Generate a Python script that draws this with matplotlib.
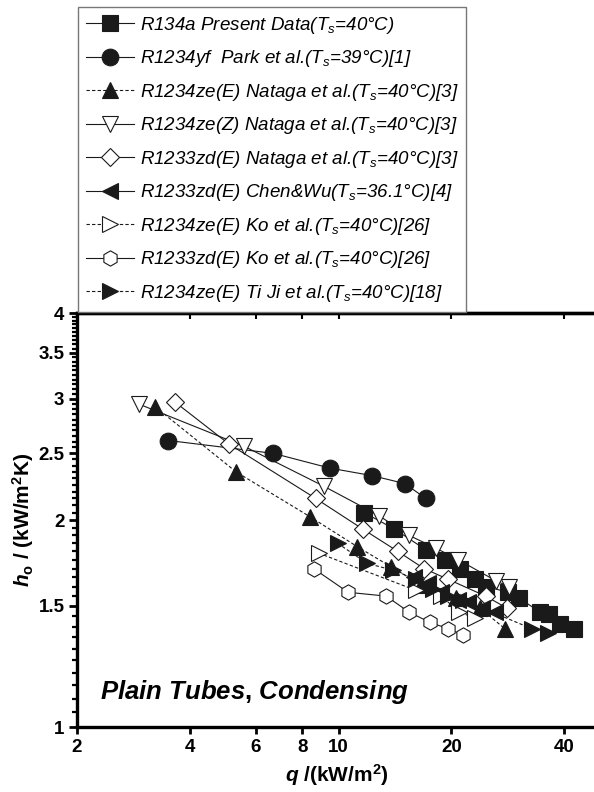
import numpy as np
import matplotlib.pyplot as plt
from matplotlib.font_manager import FontProperties
from matplotlib.ticker import NullLocator, NullFormatter

plt.rcParams['font.family'] = ['Liberation Sans', 'DejaVu Sans']
plt.rcParams['mathtext.fontset'] = 'custom'
plt.rcParams['mathtext.rm'] = 'Liberation Sans'
plt.rcParams['mathtext.it'] = 'Liberation Sans:italic'
plt.rcParams['mathtext.bf'] = 'Liberation Sans:bold'
plt.rcParams['mathtext.bfit'] = 'Liberation Sans:italic:bold'

# heat flux q (kW/m2) and condensation HTC h_o (kW/m2K)
q_r134a = [11.7, 14.1, 17.1, 19.2, 21.1, 23.1, 24.8, 28.4, 30.3, 34.5, 36.5, 39.0, 42.6]
h_r134a = [2.05, 1.94, 1.81, 1.75, 1.70, 1.64, 1.60, 1.57, 1.54, 1.47, 1.46, 1.41, 1.39]

q_park = [3.51, 6.69, 9.46, 12.3, 15.0, 17.1]
h_park = [2.61, 2.50, 2.38, 2.32, 2.26, 2.15]

q_nat_zeE = [3.24, 5.32, 8.41, 11.2, 13.8, 16.6, 20.6, 23.8, 27.8]
h_nat_zeE = [2.92, 2.35, 2.02, 1.83, 1.71, 1.61, 1.54, 1.49, 1.39]

q_nat_zeZ = [2.92, 5.59, 9.12, 12.8, 15.4, 18.2, 20.9, 26.4, 28.6]
h_nat_zeZ = [2.95, 2.56, 2.24, 2.03, 1.90, 1.82, 1.75, 1.63, 1.60]

q_nat_zd = [3.65, 5.09, 8.68, 11.6, 14.4, 16.9, 19.6, 24.7, 28.1]
h_nat_zd = [2.97, 2.58, 2.15, 1.94, 1.80, 1.70, 1.64, 1.55, 1.49]

q_chen = [15.9, 17.3, 18.8, 20.9, 22.2, 24.1, 26.1]
h_chen = [1.65, 1.62, 1.57, 1.53, 1.52, 1.49, 1.47]

q_ko_ze = [8.84, 16.1, 18.8, 21.0, 23.1]
h_ko_ze = [1.79, 1.58, 1.55, 1.47, 1.44]

q_ko_zd = [8.57, 10.6, 13.4, 15.4, 17.5, 19.6, 21.5]
h_ko_zd = [1.70, 1.57, 1.55, 1.47, 1.42, 1.39, 1.36]

q_tiji = [9.94, 11.9, 14.0, 16.1, 17.9, 19.6, 21.5, 32.8, 36.2]
h_tiji = [1.85, 1.73, 1.69, 1.64, 1.59, 1.55, 1.53, 1.39, 1.37]

labels = [
    'R134a Present Data($T_s$=40°C)',
    'R1234yf  Park et al.($T_s$=39°C)[1]',
    'R1234ze(E) Nataga et al.($T_s$=40°C)[3]',
    'R1234ze(Z) Nataga et al.($T_s$=40°C)[3]',
    'R1233zd(E) Nataga et al.($T_s$=40°C)[3]',
    'R1233zd(E) Chen&Wu($T_s$=36.1°C)[4]',
    'R1234ze(E) Ko et al.($T_s$=40°C)[26]',
    'R1233zd(E) Ko et al.($T_s$=40°C)[26]',
    'R1234ze(E) Ti Ji et al.($T_s$=40°C)[18]',
]

x_ticks = [2, 4, 6, 8, 10, 20, 40]
y_ticks = [1, 1.5, 2, 2.5, 3, 3.5, 4]

dash = (0, (3, 2))
series = [
    (q_r134a, h_r134a, 's', '#1a1a1a', '-', 11),
    (q_park, h_park, 'o', '#1a1a1a', '-', 12),
    (q_nat_zeE, h_nat_zeE, '^', '#1a1a1a', dash, 12),
    (q_nat_zeZ, h_nat_zeZ, 'v', 'white', '-', 12),
    (q_nat_zd, h_nat_zd, 'D', 'white', '-', 9.5),
    (q_chen, h_chen, '<', '#1a1a1a', '-', 12),
    (q_ko_ze, h_ko_ze, '>', 'white', dash, 12),
    (q_ko_zd, h_ko_zd, 'h', 'white', '-', 11),
    (q_tiji, h_tiji, '>', '#1a1a1a', dash, 12),
]

fig = plt.figure(figsize=(5.94, 7.92), dpi=100)
ax = fig.add_axes([77 / 594, 65 / 792, 520 / 594, 414 / 792])

handles = []
for (q, h, m, fc, ls, ms), lab in zip(series, labels):
    ln, = ax.plot(q, h, marker=m, markersize=ms, markerfacecolor=fc,
                  markeredgecolor='#1a1a1a', markeredgewidth=0.8,
                  color='#1a1a1a', linestyle=ls, linewidth=0.8, label=lab)
    handles.append(ln)

ax.set_xscale('log')
ax.set_yscale('log')
ax.set_xlim(2, 49)
ax.set_ylim(1, 4)

ax.set_xticks(x_ticks)
ax.set_xticklabels([str(v) for v in x_ticks])
ax.xaxis.set_minor_locator(NullLocator())
ax.set_yticks(y_ticks)
ax.set_yticklabels(['1', '1.5', '2', '2.5', '3', '3.5', '4'])
ax.set_yticks(np.arange(1.0, 4.001, 0.05), minor=True)
ax.yaxis.set_minor_formatter(NullFormatter())

for lab in ax.get_xticklabels() + ax.get_yticklabels():
    lab.set_fontweight('bold')
    lab.set_fontsize(13.5)

ax.tick_params(axis='x', which='major', direction='out', length=5, width=2, pad=4)
ax.tick_params(axis='y', which='major', direction='out', length=6, width=2, pad=3)
ax.tick_params(axis='y', which='minor', direction='out', length=3.5, width=1.6)
ax.spines['right'].set_visible(False)
for s in ['left', 'bottom', 'top']:
    ax.spines[s].set_linewidth(2.4)

# short inward ticks along the top frame
top = ax.secondary_xaxis('top')
top.set_xticks(x_ticks)
top.set_xticklabels([])
top.xaxis.set_minor_locator(NullLocator())
top.tick_params(direction='in', length=4, width=1.5)
top.spines['top'].set_linewidth(2.4)

ax.set_xlabel(r'$\mathbfit{q}$ /(kW/m$^\mathbf{2}$)', fontsize=15,
              fontweight='bold', labelpad=4)
ax.set_ylabel(r'$\mathbfit{h}_\mathbf{o}$ / (kW/m$^\mathbf{2}$K)', fontsize=15,
              fontweight='bold', labelpad=2)

ax.text(0.045, 0.085, r'$\mathbfit{Plain\ Tubes}\mathbf{,}\ \mathbfit{Condensing}$',
        transform=ax.transAxes, fontsize=18.5, va='center', ha='left')

prop = FontProperties(family=['Liberation Sans', 'DejaVu Sans'], style='italic', size=13.5)
leg = fig.legend(handles, labels, loc='upper left',
                 bbox_to_anchor=(78 / 594, 1 - 7 / 792), prop=prop,
                 frameon=True, fancybox=False, framealpha=1, edgecolor='#777777',
                 handlelength=2.6, handletextpad=0.3, labelspacing=0.67,
                 borderpad=0.4, borderaxespad=0)
leg.get_frame().set_linewidth(1.0)

fig.savefig('out.png', dpi=100)
